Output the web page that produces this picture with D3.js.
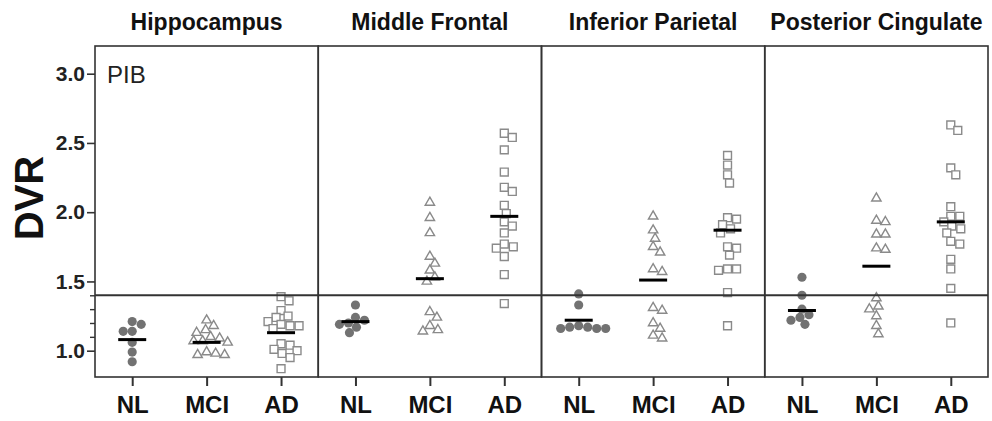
<!DOCTYPE html>
<html>
<head>
<meta charset="utf-8">
<script src="https://cdn.jsdelivr.net/npm/d3@7/dist/d3.min.js"></script>
<style>
  body { margin: 0; background: #fff; }
  svg text { font-family: "Liberation Sans", Arial, sans-serif; }
</style>
</head>
<body>
<div id="chart"></div>
<script>
var regions = ["Hippocampus", "Middle Frontal", "Inferior Parietal", "Posterior Cingulate"];
var groups = ["NL", "MCI", "AD"];
var yTicks = [1.0, 1.5, 2.0, 2.5, 3.0];
var yMinorTicks = [1.1, 1.2, 1.3, 1.4];
var cutoff = 1.4;

// DVR values, one array per region and group
var hippoNL = [1.21, 1.19, 1.14, 1.14, 1.06, 0.99, 0.92];
var hippoMCI = [1.22, 1.18, 1.15, 1.13, 1.10, 1.09, 1.07, 1.07, 1.06, 0.99, 0.98, 0.97, 0.97];
var hippoAD = [1.39, 1.36, 1.29, 1.25, 1.24, 1.21, 1.19, 1.18, 1.18, 1.16, 1.05, 1.04, 1.01, 1.00, 0.98, 0.95, 0.87];
var hippoMeans = [1.08, 1.06, 1.13];

var frontalNL = [1.33, 1.24, 1.22, 1.20, 1.19, 1.17, 1.13];
var frontalMCI = [2.07, 1.96, 1.85, 1.68, 1.63, 1.58, 1.53, 1.50, 1.28, 1.24, 1.18, 1.15, 1.14];
var frontalAD = [2.57, 2.54, 2.45, 2.29, 2.18, 2.15, 2.05, 1.99, 1.93, 1.90, 1.85, 1.77, 1.75, 1.74, 1.68, 1.55, 1.34];
var frontalMeans = [1.21, 1.52, 1.97];

var parietalNL = [1.41, 1.33, 1.18, 1.17, 1.17, 1.16, 1.16, 1.16];
var parietalMCI = [1.97, 1.87, 1.81, 1.75, 1.71, 1.59, 1.57, 1.31, 1.29, 1.20, 1.16, 1.11, 1.09];
var parietalAD = [2.41, 2.34, 2.27, 2.21, 1.96, 1.95, 1.91, 1.88, 1.85, 1.75, 1.74, 1.69, 1.59, 1.59, 1.58, 1.42, 1.18];
var parietalMeans = [1.22, 1.51, 1.87];

var cingulateNL = [1.53, 1.40, 1.30, 1.26, 1.24, 1.22, 1.19];
var cingulateMCI = [2.10, 1.94, 1.93, 1.84, 1.84, 1.74, 1.73, 1.38, 1.32, 1.30, 1.25, 1.18, 1.12];
var cingulateAD = [2.63, 2.59, 2.32, 2.27, 2.04, 1.97, 1.97, 1.93, 1.90, 1.88, 1.85, 1.79, 1.77, 1.66, 1.59, 1.45, 1.20];
var cingulateMeans = [1.29, 1.61, 1.93];

var panels = [
  { name: regions[0], values: [hippoNL, hippoMCI, hippoAD], means: hippoMeans },
  { name: regions[1], values: [frontalNL, frontalMCI, frontalAD], means: frontalMeans },
  { name: regions[2], values: [parietalNL, parietalMCI, parietalAD], means: parietalMeans },
  { name: regions[3], values: [cingulateNL, cingulateMCI, cingulateAD], means: cingulateMeans }
];

var width = 992, height = 421;
var margin = { top: 46, right: 4, bottom: 44, left: 95 };
var plotW = width - margin.left - margin.right;
var panelW = plotW / panels.length;
var bottom = height - margin.bottom;

var svg = d3.select("#chart").append("svg")
  .attr("width", width)
  .attr("height", height);

var y = d3.scaleLinear()
  .domain([0.81, 3.2])
  .range([bottom, margin.top]);

var x = d3.scalePoint()
  .domain(groups)
  .range([0, panelW])
  .padding(0.5);

var shapes = [d3.symbolCircle, d3.symbolTriangle, d3.symbolSquare];
var shapeSize = [66, 38, 62];

// greedy dodge so that points of one group do not overlap
function dodge(vals, minDist) {
  var placed = [];
  var out = new Array(vals.length);
  var order = d3.range(vals.length).sort(function(a, b) { return vals[b] - vals[a]; });
  order.forEach(function(i) {
    var py = y(vals[i]);
    for (var k = 0; k < 400; k++) {
      var cand = (k % 2 ? 1 : -1) * Math.ceil(k / 2);
      var ok = placed.every(function(p) {
        var dx = p[0] - cand, dy = p[1] - py;
        return dx * dx + dy * dy >= minDist * minDist;
      });
      if (ok) { out[i] = cand; placed.push([cand, py]); break; }
    }
  });
  return out;
}

// y axis
var yAxis = svg.append("g")
  .attr("class", "axis axis--y")
  .attr("transform", "translate(" + margin.left + ",0)")
  .call(d3.axisLeft(y).tickValues(yTicks).tickFormat(d3.format(".1f")).tickSize(8).tickPadding(2));
yAxis.select(".domain").remove();
yAxis.selectAll("line").attr("stroke", "#333").attr("stroke-width", 1.6);
yAxis.selectAll("text")
  .attr("fill", "#222")
  .style("font-size", "21px")
  .style("font-weight", "bold");

var yMinor = svg.append("g")
  .attr("transform", "translate(" + margin.left + ",0)")
  .call(d3.axisLeft(y).tickValues(yMinorTicks).tickFormat("").tickSize(5));
yMinor.select(".domain").remove();
yMinor.selectAll("line").attr("stroke", "#333").attr("stroke-width", 1.4);

svg.append("text")
  .attr("transform", "translate(43,198) rotate(-90)")
  .attr("text-anchor", "middle")
  .attr("fill", "#111")
  .style("font-size", "40px")
  .style("font-weight", "bold")
  .text("DVR");

panels.forEach(function(panel, pi) {
  var x0 = margin.left + pi * panelW;
  var g = svg.append("g").attr("transform", "translate(" + x0 + ",0)");

  g.append("rect")
    .attr("x", 0)
    .attr("y", margin.top)
    .attr("width", panelW)
    .attr("height", bottom - margin.top)
    .attr("fill", "none")
    .attr("stroke", "#333")
    .attr("stroke-width", 1.6);

  g.append("text")
    .attr("x", panelW / 2)
    .attr("y", 30)
    .attr("text-anchor", "middle")
    .attr("fill", "#111")
    .style("font-size", "23px")
    .style("font-weight", "bold")
    .text(panel.name);

  var xAxis = g.append("g")
    .attr("class", "axis axis--x")
    .attr("transform", "translate(0," + bottom + ")")
    .call(d3.axisBottom(x).tickSize(9).tickPadding(10));
  xAxis.select(".domain").remove();
  xAxis.selectAll("line").attr("stroke", "#333").attr("stroke-width", 2);
  xAxis.selectAll("text")
    .attr("fill", "#111")
    .style("font-size", "24px")
    .style("font-weight", "bold");

  panel.values.forEach(function(vals, gi) {
    var offs = dodge(vals, 8.5);
    var cx = x(groups[gi]);
    var sym = d3.symbol().type(shapes[gi]).size(shapeSize[gi]);
    g.append("g")
      .attr("class", "serie")
      .selectAll("path")
      .data(vals)
      .enter().append("path")
      .attr("d", sym)
      .attr("transform", function(d, i) { return "translate(" + (cx + offs[i]) + "," + y(d) + ")"; })
      .attr("fill", gi === 0 ? "#727272" : "#fff")
      .attr("stroke", gi === 0 ? "none" : "#8a8a8a")
      .attr("stroke-width", 1.4);

    g.append("line")
      .attr("x1", cx - 14)
      .attr("x2", cx + 14)
      .attr("y1", y(panel.means[gi]))
      .attr("y2", y(panel.means[gi]))
      .attr("stroke", "#000")
      .attr("stroke-width", 3);
  });
});

// threshold line across all panels
svg.append("line")
  .attr("x1", margin.left)
  .attr("x2", width - margin.right)
  .attr("y1", y(cutoff))
  .attr("y2", y(cutoff))
  .attr("stroke", "#333")
  .attr("stroke-width", 2);

svg.append("text")
  .attr("x", 107)
  .attr("y", 83)
  .attr("fill", "#222")
  .style("font-size", "24px")
  .text("PIB");
</script>
</body>
</html>
